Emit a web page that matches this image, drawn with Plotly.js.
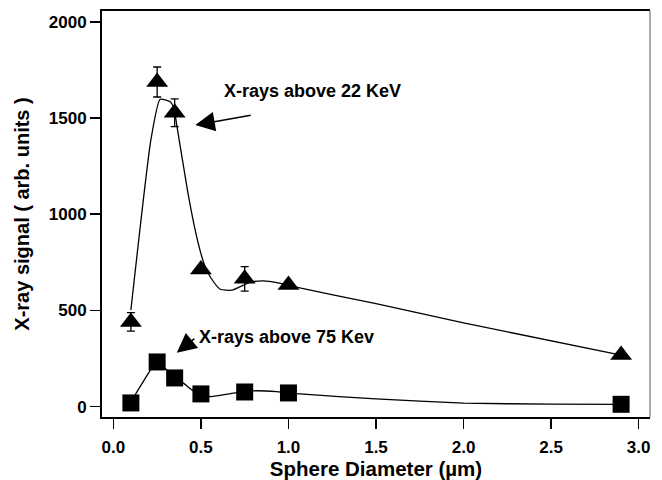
<!DOCTYPE html>
<html>
<head>
<meta charset="utf-8">
<script src="https://cdn.plot.ly/plotly-3.0.1.min.js"></script>
<style>html,body{margin:0;padding:0;background:#fff;}#chart{width:662px;height:480px;}</style>
</head>
<body>
<div id="chart"></div>
<script>
// Measured points
const diam = [0.1, 0.25, 0.35, 0.5, 0.75, 1.0, 2.9];
const signal22 = [440, 1687, 1527, 712, 664, 632, 268];
const err22 = [48, 78, 72, 0, 64, 0, 0];
const signal75 = [19, 232, 149, 66, 76, 71, 12];

// Smooth guide curves
const fit22X = [0.1, 0.214, 0.267, 0.324, 0.345, 0.362, 0.423, 0.467, 0.495, 0.524, 0.553, 0.61, 0.677, 0.781, 0.857, 0.934, 1.01, 1.5, 2.0, 2.9];
const fit22Y = [502, 1385, 1597, 1584, 1555, 1463, 1125, 918, 812, 727, 675, 610, 605, 646, 653, 644, 627, 535, 435, 268];
const fit75X = [0.1, 0.219, 0.25, 0.35, 0.4, 0.448, 0.553, 0.686, 0.8, 0.934, 1.067, 1.5, 2.0, 2.5, 2.9];
const fit75Y = [25, 200, 235, 150, 122, 87, 52, 70, 82, 78, 66, 40, 18, 13, 12];

const label22 = 'X-rays above 22 KeV';
const label75 = 'X-rays above 75 Kev';
const xTitle = 'Sphere Diameter (µm)';
const yTitle = 'X-ray signal ( arb. units )';

const FONT = 'Liberation Sans, Arial, sans-serif';

const traces = [
  {x: fit22X, y: fit22Y, mode: 'lines', line: {color: '#000', width: 1.3, shape: 'spline', smoothing: 0.5}, hoverinfo: 'skip'},
  {x: fit75X, y: fit75Y, mode: 'lines', line: {color: '#000', width: 1.3, shape: 'spline', smoothing: 0.5}, hoverinfo: 'skip'},
  {x: diam, y: signal22, mode: 'markers', marker: {symbol: 'triangle-up', size: 19, color: '#000'},
   error_y: {type: 'data', array: err22, visible: true, color: '#000', thickness: 1.3, width: 4}},
  {x: diam, y: signal75, mode: 'markers', marker: {symbol: 'square', size: 17, color: '#000'}}
];

const layout = {
  width: 662, height: 480,
  margin: {l: 102, r: 12, t: 11, b: 63},
  paper_bgcolor: '#fff', plot_bgcolor: '#fff',
  showlegend: false,
  font: {family: FONT, color: '#000', size: 17, weight: 'bold'},
  xaxis: {
    range: [-0.065, 3.065], tickvals: [0, 0.5, 1, 1.5, 2, 2.5, 3], ticktext: ['0.0','0.5','1.0','1.5','2.0','2.5','3.0'],
    showgrid: false, zeroline: false, showline: true, linecolor: '#000', linewidth: 2, mirror: true,
    ticks: 'outside', ticklen: 10, tickwidth: 1.5, tickcolor: '#000', ticklabelstandoff: 4,
    tickfont: {family: FONT, size: 17, weight: 'bold'},
    title: {text: xTitle, font: {family: FONT, size: 20.5, weight: 'bold'}, standoff: 3}
  },
  yaxis: {
    range: [-54, 2056], tickvals: [0, 500, 1000, 1500, 2000],
    showgrid: false, zeroline: false, showline: true, linecolor: '#000', linewidth: 2,
    ticks: 'outside', ticklen: 10, tickwidth: 1.5, tickcolor: '#000',
    tickfont: {family: FONT, size: 17, weight: 'bold'},
    title: {text: yTitle, font: {family: FONT, size: 20, weight: 'bold'}, standoff: 14}
  },
  shapes: [
    {type: 'line', xref: 'paper', yref: 'paper', x0: 1, x1: 1, y0: 0, y1: 1, line: {color: '#aaaaaa', width: 2}}
  ],
  annotations: [
    {x: 0.621, y: 1640, xref: 'x', yref: 'y', text: label22, showarrow: false, xanchor: 'left', yanchor: 'middle',
     font: {family: FONT, size: 18, weight: 'bold', color: '#000'}},
    {x: 0.478, y: 362, xref: 'x', yref: 'y', text: label75, showarrow: false, xanchor: 'left', yanchor: 'middle',
     font: {family: FONT, size: 18, weight: 'bold', color: '#000'}},
    {x: 0.468, y: 1463, xref: 'x', yref: 'y', ax: 0.793, ay: 1515, axref: 'x', ayref: 'y', text: '', showarrow: true,
     arrowhead: 2, arrowsize: 2.6, arrowwidth: 1.5, arrowcolor: '#000', standoff: 0},
    {x: 0.362, y: 280, xref: 'x', yref: 'y', ax: 0.471, ay: 360, axref: 'x', ayref: 'y', text: '', showarrow: true,
     arrowhead: 2, arrowsize: 2.6, arrowwidth: 1.5, arrowcolor: '#000', standoff: 0}
  ]
};

Plotly.newPlot('chart', traces, layout, {displayModeBar: false, staticPlot: true});
</script>
</body>
</html>
